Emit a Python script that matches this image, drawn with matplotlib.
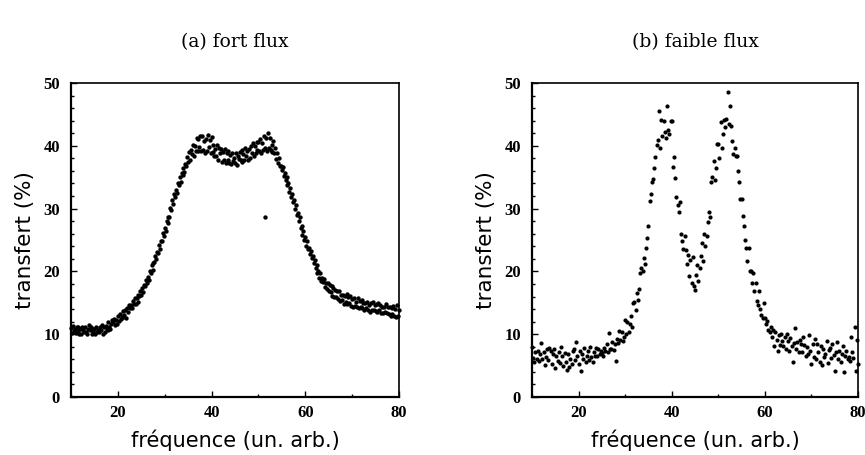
import numpy as np
import matplotlib
matplotlib.use("Agg")
import matplotlib.pyplot as plt
from matplotlib.ticker import MultipleLocator

# ---------------- data ----------------
# (a) fort flux : frequency grid 10 -> 80, step 0.2
freq_a = np.round(np.arange(10.0, 80.0001, 0.2), 2)
transfert_a = [
    11.0, 10.2, 11.3, 10.5, 10.8,
    10.2, 11.1, 10.5, 11.2, 10.0,
    10.9, 10.0, 11.1, 10.7, 10.4,
    11.2, 10.4, 10.1, 10.9, 11.4,
    10.6, 11.1, 10.1, 10.9, 10.3,
    10.9, 10.1, 11.2, 10.4, 10.7,
    10.3, 11.2, 10.6, 11.4, 10.1,
    11.1, 10.4, 11.3, 10.9, 10.6,
    12.0, 11.2, 10.9, 11.7, 12.2,
    11.9, 12.4, 11.4, 12.2, 11.6,
    12.9, 12.1, 13.2, 12.4, 12.7,
    12.8, 13.7, 13.1, 13.9, 12.6,
    14.2, 13.5, 14.6, 14.2, 14.7,
    14.2, 15.3, 14.8, 15.7, 14.8,
    15.7, 15.1, 16.3, 16.1, 16.9,
    16.3, 17.3, 16.7, 17.9, 17.7,
    18.7, 18.2, 19.1, 18.7, 20.0,
    19.7, 21.0, 20.3, 21.4, 21.5,
    22.4, 21.9, 23.1, 23.0, 24.2,
    23.5, 24.8, 24.8, 26.1, 25.6,
    26.9, 26.4, 28.0, 27.7, 28.7,
    28.6, 30.1, 29.8, 31.3, 30.7,
    32.3, 31.8, 33.0, 32.5, 34.0,
    33.7, 35.0, 34.3, 35.6, 35.4,
    36.5, 35.8, 37.1, 36.8, 38.2,
    37.5, 39.0, 37.7, 39.4, 38.7,
    40.2, 38.4, 40.0, 39.1, 41.2,
    39.2, 41.1, 39.8, 41.6, 39.1,
    41.5, 39.4, 40.8, 38.9, 41.1,
    39.2, 41.7, 39.8, 41.0, 38.8,
    41.4, 39.0, 40.2, 38.4, 39.5,
    38.3, 40.2, 37.8, 39.6, 38.8,
    39.5, 37.5, 39.0, 37.8, 39.5,
    37.3, 38.8, 37.8, 39.2, 37.2,
    38.5, 37.1, 38.8, 37.6, 38.1,
    37.3, 38.8, 36.9, 38.4, 37.9,
    39.0, 37.8, 39.3, 37.5, 38.7,
    37.8, 39.7, 38.4, 39.2, 37.8,
    39.5, 38.0, 40.0, 38.8, 40.4,
    38.4, 39.9, 38.9, 40.6, 39.3,
    40.6, 39.1, 41.1, 38.9, 40.4,
    39.3, 41.5, 39.7, 41.2, 39.1,
    42.0, 39.6, 41.3, 39.3, 40.2,
    39.0, 40.8, 38.8, 39.6, 37.9,
    38.8, 37.2, 38.0, 36.8, 36.8,
    36.1, 36.7, 35.2, 35.7, 34.6,
    35.0, 33.7, 34.0, 32.6, 33.3,
    31.9, 32.4, 31.1, 31.4, 29.9,
    30.5, 29.0, 29.3, 28.1, 28.7,
    26.9, 27.3, 25.8, 26.4, 25.0,
    25.4, 24.1, 24.9, 23.6, 23.8,
    22.7, 23.2, 22.1, 22.5, 21.3,
    21.8, 20.5, 21.0, 19.8, 20.1,
    19.0, 19.8, 18.5, 19.0, 18.3,
    18.8, 17.5, 18.2, 17.2, 18.1,
    16.8, 17.8, 16.7, 17.7, 16.1,
    17.3, 15.9, 17.0, 16.0, 16.8,
    15.6, 16.8, 15.3, 16.3, 15.5,
    16.3, 14.8, 16.1, 15.1, 16.4,
    14.8, 16.0, 14.9, 16.1, 14.5,
    15.6, 14.4, 15.8, 14.5, 15.2,
    14.4, 15.8, 14.2, 15.3, 14.4,
    15.4, 14.1, 15.0, 13.8, 15.0,
    14.1, 15.2, 13.9, 14.7, 13.6,
    14.9, 13.8, 15.2, 13.9, 14.6,
    13.7, 14.8, 13.6, 14.9, 13.8,
    14.7, 13.4, 14.4, 13.3, 14.4,
    13.5, 14.8, 13.4, 14.4, 13.2,
    14.3, 12.9, 14.1, 13.2, 14.5,
    12.9, 14.0, 12.7, 14.7, 12.9,
    13.8,
]
outlier_a_freq = [51.4]
outlier_a_val = [28.6]

# (b) faible flux : frequency grid 10 -> 80, step 0.25
freq_b = np.round(np.arange(10.0, 80.0001, 0.25), 2)
transfert_b = [
    7.9, 6.2, 5.5, 7.1,
    6.0, 7.4, 5.8, 6.9,
    8.6, 6.1, 7.2, 5.1,
    6.4, 7.6, 5.9, 7.8,
    7.3, 5.2, 6.8, 7.7,
    4.6, 6.6, 5.8, 7.2,
    5.4, 7.9, 6.5, 4.9,
    7.0, 5.6, 4.3, 6.8,
    4.8, 6.1, 5.3, 7.4,
    7.6, 5.9, 8.8, 6.5,
    5.2, 7.3, 4.2, 6.9,
    6.1, 7.8, 5.5, 6.6,
    7.4, 5.9, 8.0, 6.3,
    5.6, 7.2, 6.6, 7.8,
    6.5, 7.6, 6.9, 7.3,
    7.0, 6.6, 7.8, 7.4,
    8.4, 7.2, 10.2, 7.6,
    7.7, 8.8, 7.5, 8.4,
    5.8, 9.2, 8.6, 10.5,
    9.0, 10.3, 8.9, 9.6,
    12.2, 10.1, 11.9, 10.4,
    11.6, 12.9, 11.2, 14.9,
    15.1, 13.8, 16.6, 15.4,
    17.2, 19.8, 20.5, 20.1,
    22.1, 21.2, 23.8, 25.3,
    27.2, 31.2, 32.3, 34.3,
    34.7, 36.5, 38.2, 40.1,
    41.0, 45.6, 39.7, 44.1,
    41.6, 44.0, 42.2, 41.3,
    46.4, 42.5, 41.8, 44.0,
    43.9, 36.7, 38.2, 34.9,
    31.8, 30.6, 29.4, 31.0,
    25.9, 24.8, 23.5, 25.7,
    23.4, 21.2, 22.6, 19.3,
    21.8, 18.2, 22.3, 17.6,
    17.1, 19.5, 21.0, 18.4,
    20.6, 22.4, 24.6, 21.6,
    25.9, 24.0, 25.6, 27.8,
    29.4, 28.7, 34.2, 35.0,
    37.6, 34.5, 36.4, 40.3,
    40.3, 38.0, 43.8, 39.6,
    41.9, 44.1, 43.0, 44.3,
    48.6, 43.5, 46.3, 43.2,
    40.8, 38.7, 39.6, 38.4,
    38.4, 36.0, 34.2, 31.5,
    31.5, 28.9, 27.3, 25.0,
    23.8, 21.7, 23.7, 20.1,
    20.1, 18.2, 19.7, 16.9,
    18.1, 15.3, 14.6, 16.8,
    14.0, 13.1, 12.6, 14.9,
    12.6, 11.6, 12.1, 10.6,
    10.4, 11.1, 9.5, 10.7,
    8.2, 10.3, 9.1, 7.3,
    9.9, 8.3, 10.1, 8.9,
    8.1, 9.6, 7.7, 10.0,
    8.9, 7.4, 9.4, 8.2,
    5.6, 8.6, 11.0, 7.6,
    8.8, 7.2, 9.1, 8.4,
    7.1, 9.5, 8.3, 6.6,
    7.9, 6.9, 9.9, 7.3,
    5.2, 8.5, 6.3, 9.3,
    6.0, 8.4, 7.1, 5.5,
    8.2, 5.1, 7.6, 6.4,
    6.8, 8.9, 5.4, 7.5,
    7.8, 6.2, 8.4, 6.7,
    4.1, 7.2, 8.7, 6.0,
    7.4, 5.6, 6.9, 8.2,
    4.0, 6.6, 7.3, 6.1,
    6.4, 5.8, 9.6, 7.1,
    6.2, 11.2, 4.1, 9.1,
    5.2,
]

titles = ["(a) fort flux", "(b) faible flux"]
xlabel = "fréquence (un. arb.)"
ylabel = "transfert (%)"
xticks = [20, 40, 60, 80]
yticks = [0, 10, 20, 30, 40, 50]

# ---------------- figure ----------------
W, H = 865, 455
fig = plt.figure(figsize=(W / 100, H / 100), dpi=100)

def ax_rect(x0, x1, y0, y1):
    return [x0 / W, 1 - y1 / H, (x1 - x0) / W, (y1 - y0) / H]

ax_a = fig.add_axes(ax_rect(71, 399, 83, 397))
ax_b = fig.add_axes(ax_rect(532, 858, 83, 397))

tick_font = "Liberation Serif"
title_font = "DejaVu Serif"
label_font = "DejaVu Sans"

def style(ax, title):
    ax.set_xlim(10, 80)
    ax.set_ylim(0, 50)
    ax.set_xticks(xticks)
    ax.set_yticks(yticks)
    ax.yaxis.set_minor_locator(MultipleLocator(2))
    ax.xaxis.set_minor_locator(MultipleLocator(10))
    ax.tick_params(which="both", direction="in", top=False, right=False,
                   width=1.0, color="black")
    ax.tick_params(which="major", length=4)
    ax.tick_params(which="minor", length=2.5)
    ax.tick_params(axis="y", which="major", pad=8)
    ax.tick_params(axis="x", which="major", pad=6)
    for lab in ax.get_xticklabels() + ax.get_yticklabels():
        lab.set_fontfamily(tick_font)
        lab.set_fontweight("bold")
        lab.set_fontsize(12)
    for sp in ax.spines.values():
        sp.set_linewidth(1.2)
        sp.set_color("black")
    ax.spines["left"].set_linewidth(1.6)
    ax.spines["bottom"].set_linewidth(1.6)
    ax.set_xlabel(xlabel, fontfamily=label_font, fontsize=15, labelpad=6)
    ax.set_ylabel(ylabel, fontfamily=label_font, fontsize=15.5, labelpad=6)
    ax.set_title(title, fontfamily=title_font, fontsize=13.5, pad=26)

ax_a.scatter(freq_a, transfert_a, s=10, marker="o", color="black",
             linewidths=0, clip_on=False)
ax_a.scatter(outlier_a_freq, outlier_a_val, s=10, marker="o",
             color="black", linewidths=0)
ax_b.scatter(freq_b, transfert_b, s=9, marker="o", color="black",
             linewidths=0, clip_on=False)

style(ax_a, titles[0])
style(ax_b, titles[1])

fig.savefig("out.png", dpi=100, facecolor="white")
